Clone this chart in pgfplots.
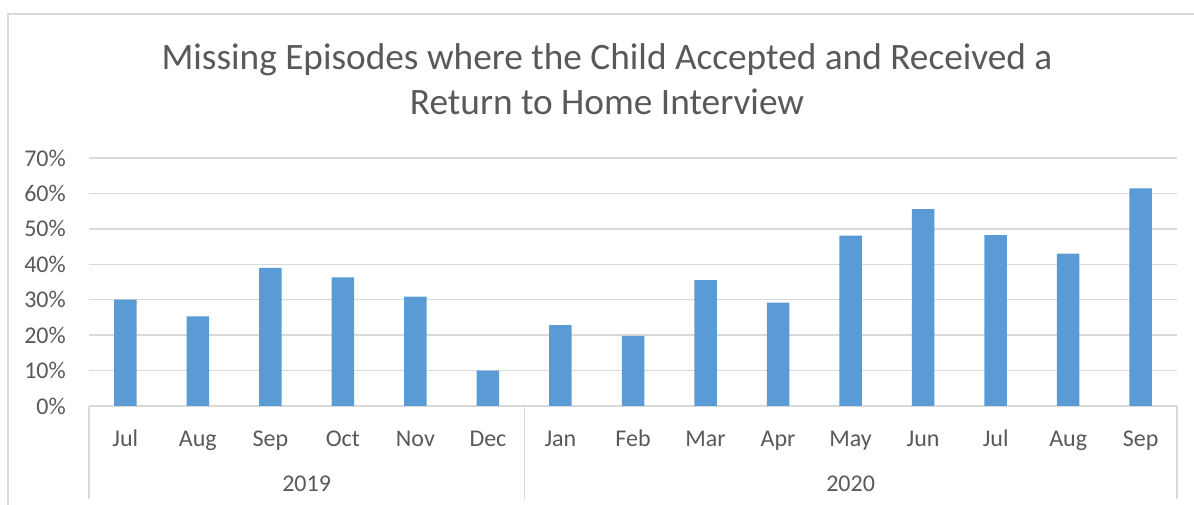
\documentclass[border=0pt]{standalone}
\usepackage{fontspec}
\setmainfont{Carlito}
\usepackage{pgfplots}
\pgfplotsset{compat=1.18}
\definecolor{barblue}{HTML}{5B9BD5}
\definecolor{txtgray}{HTML}{595959}
\definecolor{gridgray}{HTML}{D9D9D9}
\begin{document}
\begin{tikzpicture}[x=1bp,y=1bp]
\useasboundingbox (0,0) rectangle (1194,505);
\draw[gridgray, line width=1.5bp] (8,0) -- (8,491) -- (1194,491);
\node[txtgray, font=\fontsize{37.3bp}{45bp}\selectfont, anchor=base] at (607,435) {Missing Episodes where the Child Accepted and Received a};
\node[txtgray, font=\fontsize{37.3bp}{45bp}\selectfont, anchor=base] at (607,390) {Return to Home Interview};
\begin{axis}[
  at={(89bp,99bp)}, anchor=south west,
  scale only axis, width=1088bp, height=248bp,
  xmin=-0.5, xmax=14.5, ymin=0, ymax=70,
  clip=false,
  ybar, bar width=22.5bp,
  ytick={0,10,20,30,40,50,60,70},
  yticklabels={0\%,10\%,20\%,30\%,40\%,50\%,60\%,70\%},
  xtick={0,1,2,3,4,5,6,7,8,9,10,11,12,13,14},
  xticklabels={Jul,Aug,Sep,Oct,Nov,Dec,Jan,Feb,Mar,Apr,May,Jun,Jul,Aug,Sep},
  ymajorgrids, grid style={gridgray, line width=1.3bp},
  axis line style={draw=none},
  xtick pos=bottom, ytick pos=left,
  xtick style={draw=none}, ytick style={draw=none},
  ticklabel style={font=\fontsize{24bp}{28bp}\selectfont, text=txtgray},
  xticklabel style={anchor=base, yshift=-36bp, inner sep=0pt},
  yticklabel style={anchor=east, inner sep=0pt, xshift=-23bp},
]
\addplot[fill=barblue, draw=none] coordinates {
(0,30.0) (1,25.3) (2,39.0) (3,36.3) (4,30.9) (5,10.0) (6,22.8) (7,19.8)
(8,35.5) (9,29.2) (10,48.1) (11,55.6) (12,48.2) (13,43.0) (14,61.4)};
\draw[gridgray, line width=1.3bp] (axis cs:-0.5,0) -- ([yshift=-93bp]axis cs:-0.5,0);
\draw[gridgray, line width=1.3bp] (axis cs:5.5,0) -- ([yshift=-93bp]axis cs:5.5,0);
\draw[gridgray, line width=1.3bp] (axis cs:14.5,0) -- ([yshift=-93bp]axis cs:14.5,0);
\node[txtgray, font=\fontsize{24bp}{28bp}\selectfont, anchor=base] at (axis cs:2.5,0) [yshift=-86bp] {2019};
\node[txtgray, font=\fontsize{24bp}{28bp}\selectfont, anchor=base] at (axis cs:10,0) [yshift=-86bp] {2020};
\end{axis}
\end{tikzpicture}
\end{document}
